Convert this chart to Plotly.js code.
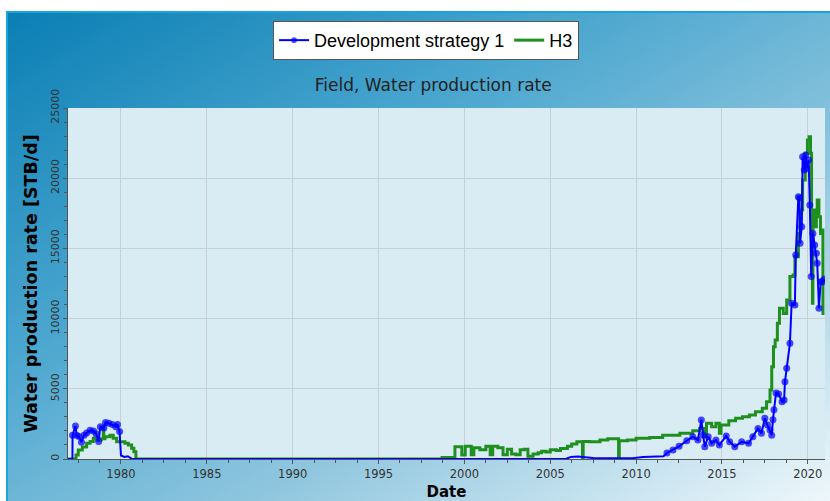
<!DOCTYPE html>
<html>
<head>
<meta charset="utf-8">
<script src="https://cdn.plot.ly/plotly-3.0.1.min.js"></script>
<style>
  html, body { margin: 0; padding: 0; background: #ffffff; }
  #wrap { position: relative; width: 830px; height: 501px; overflow: hidden; }
  #bg { position: absolute; left: 6px; top: 11px; width: 824px; height: 490px;
        border-top: 2px solid #1aa3dc; border-left: 2px solid #1aa3dc; box-sizing: border-box;
        background: linear-gradient(to bottom right, #0a7fb4 0%, #4aa6cf 35%, #8fc6de 65%, #eef7fb 100%); }
  #chart { position: absolute; left: 0; top: 0; width: 830px; height: 501px; }
</style>
</head>
<body>
<div id="wrap"><div id="bg"></div><div id="chart"></div></div>
<script>
// ---- Data (decimal years, STB/d) ----
const devYears = [1976.9, 1977.17, 1977.18, 1977.35, 1977.42, 1977.55, 1977.7, 1977.85, 1978.0, 1978.2, 1978.4, 1978.55, 1978.7, 1978.8, 1979.0, 1979.1, 1979.3, 1979.5, 1979.7, 1979.8, 1979.92, 1980.0, 1980.2, 1980.4, 1980.55, 1980.65,
  2005.9, 2006.2, 2006.6, 2007.0, 2007.5, 2008.1, 2009.0, 2009.8, 2010.4, 2011.0, 2011.6, 2011.8, 2012.15, 2012.5, 2012.95, 2013.3, 2013.6, 2013.8, 2013.9, 2014.0, 2014.2, 2014.4, 2014.65, 2014.85, 2015.25, 2015.45, 2015.75, 2016.15, 2016.55, 2016.8, 2017.1, 2017.3, 2017.5, 2017.65, 2017.8, 2017.9, 2017.97, 2018.03, 2018.15, 2018.3, 2018.5, 2018.62, 2018.67, 2018.77, 2018.96, 2019.06, 2019.25, 2019.3, 2019.45, 2019.52, 2019.55, 2019.65, 2019.7, 2019.8, 2019.88, 2019.93, 2020.05, 2020.12, 2020.2, 2020.3, 2020.4, 2020.5, 2020.55, 2020.65, 2020.75, 2020.85, 2020.95];
const devRate = [0, 0, 1700, 2350, 1700, 1600, 1200, 1700, 1850, 2050, 2000, 1800, 1250, 2300, 2200, 2600, 2550, 2450, 2300, 2450, 1950, 250, 150, 200, 100, 0,
  0, 150, 180, 120, 80, 50, 50, 60, 150, 180, 200, 430, 640, 900, 1300, 1590, 1350, 2780, 1710, 880, 1590, 1120, 1350, 1000, 1640, 1230, 880, 1230, 1120, 1590, 2180, 1830, 2900, 2420, 2060, 1700, 2800, 3500, 4700, 4630, 4080, 4200, 5500, 6460, 8240, 11090, 10970, 14530, 18680, 18590, 15360, 16550, 21530, 20580, 21650, 20700, 21290, 18090, 12990, 16070, 15240, 14650, 13940, 10730, 12620, 12620, 12800];

const h3Years = [1976.9, 1977.38, 1977.51, 1977.75, 1978.0, 1978.2, 1978.39, 1978.6, 1978.85, 1978.97, 1979.0, 1979.07, 1979.36, 1979.55, 1979.75, 1980.04, 1980.23, 1980.43, 1980.62, 1980.75, 1980.87,
  1998.6, 1998.7, 1999.45, 1999.85, 2000.05, 2000.4, 2000.55, 2000.9, 2001.25, 2001.5, 2001.65, 2001.95, 2002.25, 2002.5, 2002.75, 2003.0, 2003.25, 2003.5, 2003.7, 2004.0, 2004.3, 2004.5, 2004.75, 2005.0, 2005.35, 2005.6, 2006.0, 2006.25, 2006.55, 2006.88, 2006.92, 2007.3, 2007.9, 2008.35, 2008.98, 2009.02, 2009.5, 2010.0, 2010.8, 2011.55, 2012.55, 2013.3, 2013.7, 2013.95, 2014.1, 2014.4, 2014.65, 2014.85, 2014.95, 2015.4, 2015.8, 2016.2, 2016.6, 2016.95, 2017.35, 2017.6, 2017.8, 2017.9, 2018.0, 2018.1, 2018.23, 2018.35, 2018.57, 2018.77, 2018.96, 2019.15, 2019.25, 2019.45, 2019.55, 2019.7, 2019.85, 2019.98, 2020.08, 2020.16, 2020.22, 2020.27, 2020.3, 2020.4, 2020.5, 2020.55, 2020.65, 2020.74, 2020.8, 2020.88, 2020.97];
const h3Rate = [0, 280, 640, 850, 1120, 1250, 1470, 1350, 1450, 2070, 1450, 1590, 1700, 1470, 1230, 1230, 1120, 1000, 760, 520, 0,
  0, 100, 870, 280, 900, 300, 800, 650, 900, 300, 900, 800, 300, 700, 350, 300, 650, 700, 200, 350, 450, 550, 500, 650, 600, 750, 900, 1070, 1230, 0, 1250, 1230, 1350, 1450, 0, 1300, 1350, 1470, 1540, 1700, 1830, 2020, 2180, 1590, 2540, 2300, 2540, 1830, 2420, 2730, 2900, 3010, 3130, 3370, 3610, 4080, 4910, 6570, 8000, 8470, 9660, 10730, 10370, 11320, 12990, 13100, 14410, 16070, 17730, 19870, 21770, 22720, 22960, 21770, 13700, 11090, 17730, 16550, 17730, 18440, 17250, 16070, 16310, 10370, 10370];

const yTicks = [0, 5000, 10000, 15000, 20000, 25000];

// decimal year -> ISO date string
function toDate(y) {
  const yr = Math.floor(y);
  const start = Date.UTC(yr, 0, 1), end = Date.UTC(yr + 1, 0, 1);
  return new Date(start + (y - yr) * (end - start)).toISOString().slice(0, 10);
}

const traces = [
  { name: 'H3', type: 'scatter', mode: 'lines',
    x: h3Years.map(toDate), y: h3Rate,
    line: { color: '#1f8f1f', width: 3, shape: 'hv' } },
  { name: 'Development strategy 1', type: 'scatter', mode: 'lines+markers',
    x: devYears.map(toDate), y: devRate,
    line: { color: '#0000ff', width: 2 },
    marker: { color: '#0000ff', size: devRate.map(v => v >= 300 ? 7 : 0), line: { width: 0 } } }
];

const layout = {
  width: 830, height: 501,
  margin: { l: 68, r: 5, t: 108, b: 42 },
  paper_bgcolor: 'rgba(0,0,0,0)',
  plot_bgcolor: '#daecf3',
  showlegend: true,
  legend: { orientation: 'h', traceorder: 'reversed', x: 0.473, xanchor: 'center', y: 1.248, yanchor: 'top',
            bgcolor: '#ffffff', bordercolor: '#555555', borderwidth: 1,
            font: { family: 'Liberation Sans, Arial, sans-serif', size: 18, color: '#000' } },
  title: { text: 'Field, Water production rate', x: 0.522, xanchor: 'center', y: 0.83, yanchor: 'middle',
           font: { family: 'DejaVu Sans, Verdana, sans-serif', size: 17, color: '#222' } },
  xaxis: {
    type: 'date', range: [toDate(1976.913), toDate(2021.0)],
    tick0: '1980-01-01', dtick: 'M60', tickformat: '%Y',
    ticks: 'outside', ticklen: 4, tickcolor: '#555',
    showline: true, linecolor: '#555', linewidth: 1,
    showgrid: true, gridcolor: '#c5cfd4', zeroline: false,
    minor: { dtick: 'M15', ticks: 'outside', ticklen: 3, tickcolor: '#555', showgrid: false },
    tickfont: { family: 'DejaVu Sans, Verdana, sans-serif', size: 11.5, color: '#333' },
    title: { text: 'Date', standoff: 7, font: { family: 'DejaVu Sans, Verdana, sans-serif', size: 15, color: '#000', weight: 'bold' } }
  },
  yaxis: {
    range: [0, 25000], tickvals: yTicks, ticktext: yTicks.map(String),
    tickangle: -90,
    ticks: 'outside', ticklen: 4, tickcolor: '#555',
    showline: true, linecolor: '#555', linewidth: 1,
    showgrid: true, gridcolor: '#c5cfd4', zeroline: false,
    minor: { dtick: 1000, ticks: 'outside', ticklen: 3, tickcolor: '#555', showgrid: false },
    tickfont: { family: 'DejaVu Sans, Verdana, sans-serif', size: 11, color: '#333' },
    title: { text: 'Water production rate [STB/d]', standoff: 6, font: { family: 'DejaVu Sans, Verdana, sans-serif', size: 17.5, color: '#000', weight: 'bold' } }
  }
};

Plotly.newPlot('chart', traces, layout, { displayModeBar: false, staticPlot: true });
</script>
</body>
</html>
